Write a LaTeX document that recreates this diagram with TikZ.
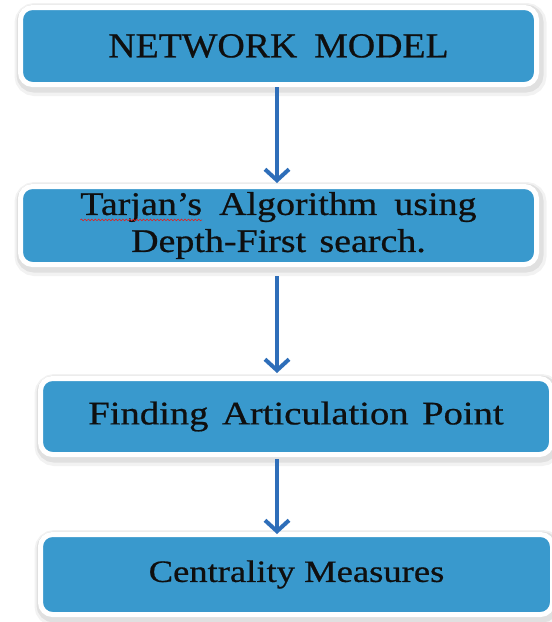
\documentclass[tikz,border=0pt]{standalone}
\usepackage{graphicx}
\usepackage{fontspec}
\setmainfont{Liberation Serif}[FakeBold=0.6]
\usetikzlibrary{arrows.meta,decorations.pathmorphing}
\definecolor{boxblue}{RGB}{57,153,205}
\definecolor{arrblue}{RGB}{46,110,185}
\definecolor{txt}{RGB}{15,15,15}
\definecolor{squig}{RGB}{215,40,40}
\newsavebox\spellword
\newcommand\spellwave[1]{\sbox\spellword{#1}\usebox\spellword\tikz[overlay,x=1pt,y=1pt]{\draw[sharp corners,draw=squig,line width=0.6pt,decorate,decoration={snake,amplitude=0.8pt,segment length=3pt}] (-\wd\spellword,-5) -- (0pt,-5);}}
\begin{document}
\begin{tikzpicture}[x=1pt,y=-1pt,
  stepbox/.style={rectangle, rounded corners=12pt, fill=boxblue, draw=white,
    line width=5pt, text=txt, align=center, inner sep=0pt,
    preaction={draw=black, draw opacity=0.05, line width=16pt,
      transform canvas={shift={(2pt,-3.5pt)}}},
    preaction={draw=black, draw opacity=0.07, line width=11pt,
      transform canvas={shift={(1.5pt,-2.5pt)}}}},
  flow/.style={draw=arrblue, line width=4pt,
    -{Straight Barb[length=11pt,width=24pt]}}]
\useasboundingbox[fill=white] (0,0) rectangle (552,622);

\node[stepbox, minimum width=516pt, minimum height=77pt,
      font=\fontsize{35}{40}\selectfont] (b1) at (278.5,46)
  {\scalebox{1.08}[1]{NETWORK\hspace{0.45em}MODEL}};
\node[stepbox, minimum width=516pt, minimum height=78pt,
      font=\fontsize{33}{36}\selectfont] (b2) at (278.5,225.5)
  {\scalebox{1.15}[1]{\spellwave{Tarjan’s}\hspace{0.45em}Algorithm\hspace{0.45em}using}\\[1pt]
   \scalebox{1.15}[1]{Depth-First\hspace{0.35em}search.}};
\node[stepbox, minimum width=511pt, minimum height=76pt,
      font=\fontsize{33}{38}\selectfont] (b3) at (296,416.5)
  {\scalebox{1.17}[1]{Finding\hspace{0.35em}Articulation\hspace{0.35em}Point}};
\node[stepbox, minimum width=512pt, minimum height=80pt,
      font=\fontsize{31}{36}\selectfont] (b4) at (296.5,574.5)
  {\scalebox{1.18}[1]{Centrality Measures}};

\draw[flow] ([xshift=-1.5pt]b1.south) -- ([xshift=-1.5pt,yshift=1pt]b2.north);
\draw[flow, shorten <=9pt, shorten >=3pt] ([xshift=-1.5pt]b2.south) -- ([xshift=-1.5pt]b2.south |- b3.north);
\draw[flow, shorten <=2pt] ([xshift=-1.5pt]b2.south |- b3.south) -- ([xshift=-1.5pt,yshift=-2pt]b2.south |- b4.north);
\end{tikzpicture}
\end{document}
